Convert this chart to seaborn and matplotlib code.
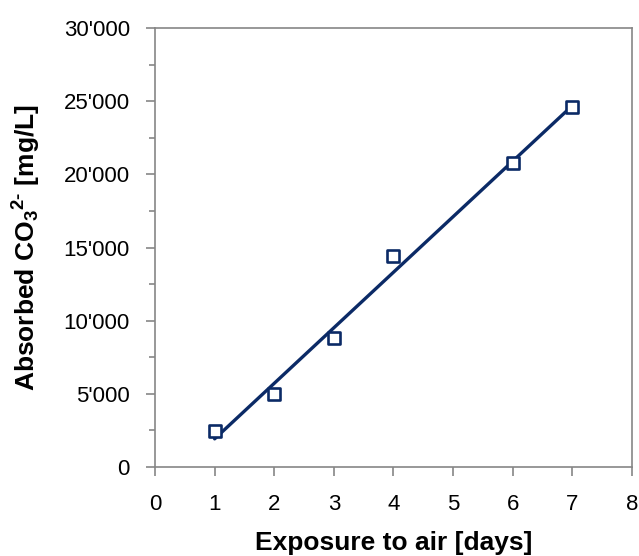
import matplotlib
matplotlib.use("Agg")
import matplotlib.pyplot as plt
import matplotlib.ticker as mticker
import seaborn as sns
import pandas as pd

days = [1, 2, 3, 4, 6, 7]
co3 = [2460, 5000, 8820, 14420, 20780, 24600]

sns.set_theme(style="white")
plt.rcParams['font.family'] = ['Liberation Sans', 'DejaVu Sans']
plt.rcParams['mathtext.fontset'] = 'custom'
plt.rcParams['mathtext.rm'] = 'Liberation Sans:bold'
plt.rcParams['mathtext.bf'] = 'Liberation Sans:bold'
plt.rcParams['mathtext.it'] = 'Liberation Sans:bold'
plt.rcParams['text.color'] = 'black'
plt.rcParams['axes.labelcolor'] = 'black'

df = pd.DataFrame({"days": days, "co3": co3})
navy = "#0B2A66"

fig = plt.figure(figsize=(6.39, 5.56), dpi=100)
ax = fig.add_axes([0.2426, 0.16, 0.989 - 0.2426, 0.9496 - 0.16])

sns.regplot(data=df, x="days", y="co3", ax=ax, ci=None, truncate=True,
            marker="s",
            scatter_kws=dict(s=64, facecolors="white", edgecolors=navy, linewidths=1.9, alpha=1, zorder=3),
            line_kws=dict(color=navy, lw=2.4, zorder=2))

ax.set_xlim(0, 8)
ax.set_ylim(0, 30000)
ax.xaxis.set_major_locator(mticker.MultipleLocator(1))
ax.yaxis.set_major_locator(mticker.MultipleLocator(5000))
ax.yaxis.set_minor_locator(mticker.MultipleLocator(2500))
ax.yaxis.set_major_formatter(mticker.FuncFormatter(lambda v, p: f"{int(v):,}".replace(",", "'")))

ax.tick_params(axis='both', which='major', direction='out', length=6.2, width=1.2, color='#868686',
               labelsize=16, labelcolor='black', bottom=True, left=True)
ax.tick_params(axis='y', which='major', pad=12)
ax.tick_params(axis='x', which='major', pad=13)
ax.tick_params(axis='y', which='minor', direction='out', length=4.3, width=1.2, color='#868686', left=True)

for s in ax.spines.values():
    s.set_color('#868686')
    s.set_linewidth(1.2)

ax.set_xlabel("Exposure to air [days]", fontsize=19, fontweight='bold', labelpad=12, color='black')
ax.set_ylabel(r"Absorbed CO$_3$$^{2\text{-}}$ [mg/L]", fontsize=19, fontweight='bold', labelpad=15, color='black')

fig.savefig("out.png", dpi=100)
